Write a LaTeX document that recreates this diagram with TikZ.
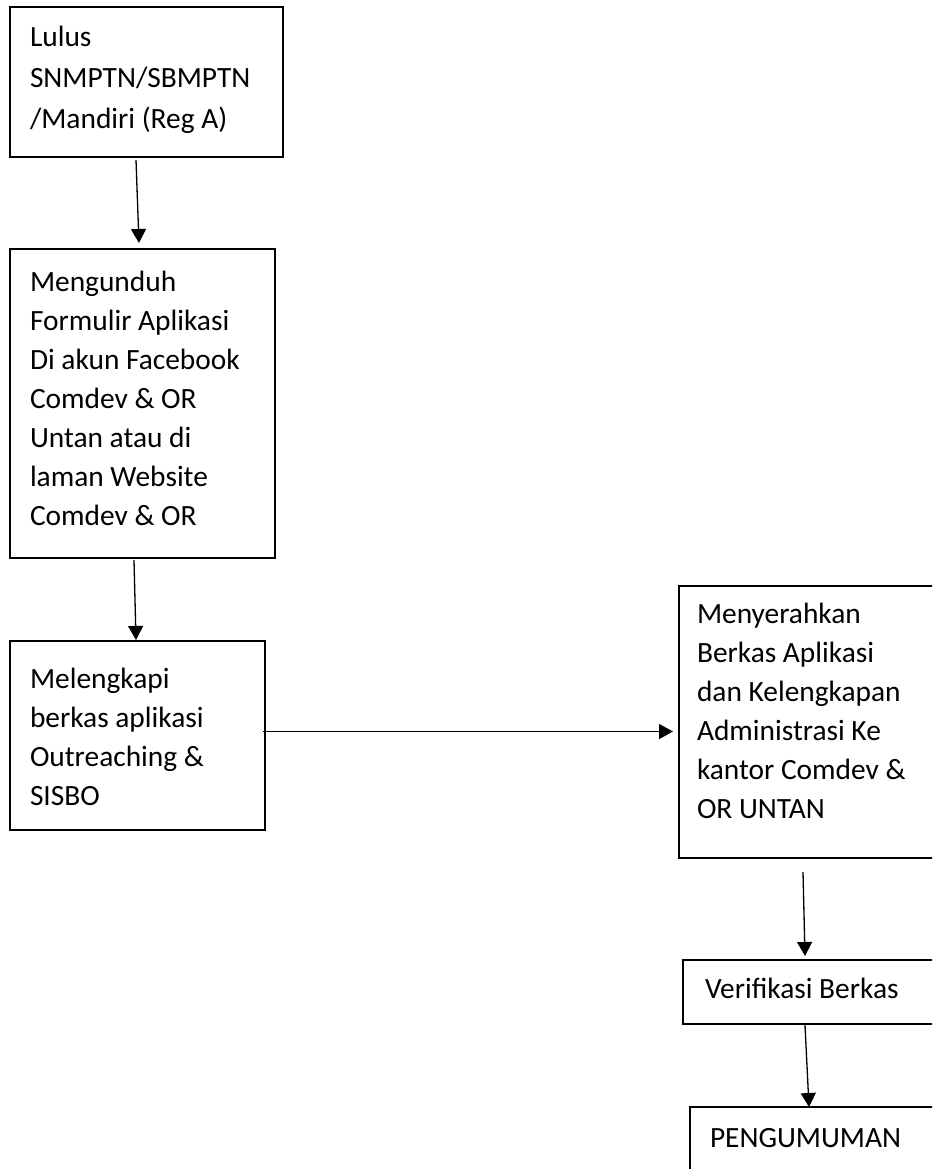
\documentclass[tikz,border=0pt]{standalone}
\usepackage{fontspec}
\setmainfont{Carlito}
\usepackage{tikz}
\usetikzlibrary{arrows.meta}

\tikzset{
	stepbox/.style={draw, line width=1.8pt, anchor=north west, outer sep=0pt,
		inner xsep=20pt, inner ysep=0pt, align=left, text height=20pt,
		font=\fontsize{29.4}{39}\selectfont,
		execute at begin node={\spaceskip=0pt\xspaceskip=0pt}},
	arr/.style={line width=1.3pt, -{Triangle[width=15pt,length=14pt]}}
}

\begin{document}
\begin{tikzpicture}[x=1pt, y=-1pt]
	\clip (0,0) rectangle (932,1169);
	
	\node[stepbox, minimum width=273pt, minimum height=150pt, text width=233pt,
		text depth=90pt, font=\fontsize{29.4}{41}\selectfont] (lulus) at (10,7)
		{Lulus\\SNMPTN/SBMPTN\\/Mandiri (Reg A)};
	
	\node[stepbox, minimum width=265pt, minimum height=309pt, text width=225pt,
		text depth=245pt] (unduh) at (10,249)
		{Mengunduh\\Formulir Aplikasi\\Di akun Facebook\\Comdev \& OR\\Untan atau di\\laman Website\\Comdev \& OR};
	
	\node[stepbox, minimum width=255pt, minimum height=189pt, text width=215pt,
		text depth=115pt] (lengkap) at (10,641)
		{Melengkapi\\berkas aplikasi\\Outreaching \&\\SISBO};
	
	\node[stepbox, inner xsep=18pt, minimum width=300pt, minimum height=272pt,
		text width=264pt, text depth=218pt] (serah) at (679,586)
		{Menyerahkan\\Berkas Aplikasi\\dan Kelengkapan\\Administrasi Ke\\kantor Comdev \&\\OR UNTAN};
	
	\node[stepbox, inner xsep=22pt, minimum width=300pt, minimum height=64pt,
		text width=256pt, text depth=8pt] (verif) at (683,960) {Verifikasi Berkas};
	
	\node[stepbox, minimum width=300pt, minimum height=80pt, text width=260pt,
		text depth=20pt] (umum) at (690,1107) {PENGUMUMAN};
	
	% alur
	\draw[arr] ([xshift=126pt,yshift=-3pt]lulus.south west) -- ([xshift=129pt,yshift=6pt]unduh.north west);
	\draw[arr] ([xshift=124pt,yshift=-2pt]unduh.south west) -- ([xshift=126pt,yshift=1pt]lengkap.north west);
	\draw[arr] ([xshift=-2pt,yshift=4pt]lengkap.east) -- ([xshift=-6pt,yshift=-9.5pt]serah.west);
	\draw[arr] ([xshift=124pt,yshift=-14pt]serah.south west) -- ([xshift=122pt,yshift=4pt]verif.north west);
	\draw[arr] ([xshift=122pt,yshift=-1pt]verif.south west) -- ([xshift=119pt]umum.north west);
	
\end{tikzpicture}
\end{document}
